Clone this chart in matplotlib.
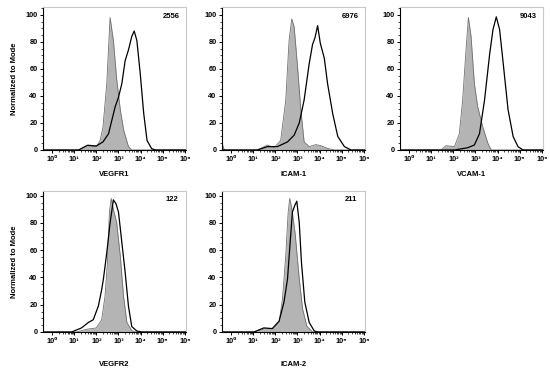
import numpy as np
import matplotlib
matplotlib.use("Agg")
import matplotlib.pyplot as plt
from matplotlib.ticker import FixedLocator, MultipleLocator, NullFormatter

plt.rcParams['font.family'] = ['Liberation Sans', 'DejaVu Sans']
plt.rcParams['font.weight'] = 'bold'

# marker names and the numbers printed in each panel
markers = ["VEGFR1", "ICAM-1", "VCAM-1", "VEGFR2", "ICAM-2"]
mfi = ["2556", "6976", "9043", "122", "211"]

# curves: log10 of intensity, then % of mode
# gray = isotype control (filled), black = stained sample (outline)
vegfr1_iso_x = [-0.4, 1.2, 1.56, 2.0, 2.17, 2.3, 2.47, 2.62, 2.77, 2.92, 3.08, 3.23, 3.45, 3.6, 6.05]
vegfr1_iso_y = [0, 0, 3, 2.5, 7, 17, 49, 98, 81, 52, 30, 15, 2.5, 0, 0]
vegfr1_x = [-0.4, 1.2, 1.6, 2.0, 2.3, 2.55, 2.7, 2.85, 3.0, 3.15, 3.3, 3.45, 3.6, 3.71, 3.83, 3.98, 4.14, 4.29, 4.5, 4.67, 6.05]
vegfr1_y = [0, 0, 3.5, 3, 6, 12, 22, 32, 39, 49, 66, 74, 84, 88, 81, 57, 27, 7, 1, 0, 0]

icam1_iso_x = [-0.4, -0.35, -0.3, 1.2, 1.64, 1.94, 2.24, 2.47, 2.62, 2.74, 2.85, 3.0, 3.15, 3.3, 3.53, 3.83, 4.06, 4.36, 4.67, 6.05]
icam1_iso_y = [5, 2, 0, 0, 3.7, 1.7, 7, 37, 81, 97, 91, 62, 30, 6, 2.5, 4, 3.2, 1.2, 0, 0]
icam1_x = [-0.4, 1.18, 1.64, 2.09, 2.55, 2.85, 3.08, 3.3, 3.53, 3.68, 3.79, 3.91, 4.03, 4.21, 4.36, 4.59, 4.82, 5.12, 5.42, 6.05]
icam1_y = [0, 0, 2.5, 2.5, 6, 11, 20, 37, 64, 78, 83, 92, 79, 68, 49, 27, 10, 2.5, 0, 0]

vcam1_iso_x = [-0.4, 1.44, 1.67, 2.05, 2.27, 2.42, 2.58, 2.68, 2.8, 2.95, 3.1, 3.33, 3.56, 3.71, 6.05]
vcam1_iso_y = [0, 0, 3.2, 2.5, 12, 37, 76, 98, 84, 49, 32, 17, 5, 0, 0]
vcam1_x = [-0.4, 2.05, 2.65, 2.95, 3.18, 3.41, 3.64, 3.79, 3.94, 4.09, 4.24, 4.47, 4.7, 4.92, 5.15, 6.05]
vcam1_y = [0, 0, 1.7, 3.7, 12, 37, 71, 89, 98.5, 89, 66, 30, 10, 2.5, 0, 0]

vegfr2_iso_x = [-0.4, 1.1, 1.56, 2.0, 2.24, 2.39, 2.5, 2.59, 2.67, 2.77, 2.92, 3.08, 3.23, 3.38, 3.6, 3.76, 6.05]
vegfr2_iso_y = [0, 0, 2, 3, 9, 26, 51, 88, 98, 90, 80, 56, 26, 7, 1, 0, 0]
vegfr2_x = [-0.4, 0.88, 1.33, 1.64, 1.86, 2.09, 2.24, 2.32, 2.47, 2.62, 2.77, 2.89, 3.0, 3.15, 3.3, 3.45, 3.6, 3.83, 4.06, 6.05]
vegfr2_y = [0, 0, 3, 7, 9, 19, 31, 39, 58, 80, 97, 94, 88, 66, 44, 19, 4, 0.7, 0, 0]

icam2_iso_x = [-0.4, 1.03, 1.56, 1.94, 2.17, 2.32, 2.47, 2.58, 2.65, 2.74, 2.89, 3.08, 3.23, 3.42, 3.68, 6.05]
icam2_iso_y = [0, 0, 2.5, 2.7, 7, 24, 56, 88, 98, 91, 73, 39, 17, 4.4, 0, 0]
icam2_x = [-0.4, 1.03, 1.48, 1.86, 2.17, 2.39, 2.55, 2.67, 2.77, 2.88, 2.97, 3.08, 3.18, 3.33, 3.53, 3.76, 3.91, 6.05]
icam2_y = [0, 0, 3, 2.5, 8, 22, 39, 66, 88, 93, 96, 80, 51, 22, 7, 0.7, 0, 0]

iso_curves = [(vegfr1_iso_x, vegfr1_iso_y), (icam1_iso_x, icam1_iso_y), (vcam1_iso_x, vcam1_iso_y),
              (vegfr2_iso_x, vegfr2_iso_y), (icam2_iso_x, icam2_iso_y)]
sample_curves = [(vegfr1_x, vegfr1_y), (icam1_x, icam1_y), (vcam1_x, vcam1_y),
                 (vegfr2_x, vegfr2_y), (icam2_x, icam2_y)]

decades = [0, 1, 2, 3, 4, 5, 6]
sup = "⁰¹²³⁴⁵⁶"
xtick_labels = ["10" + sup[d] for d in decades]

fig = plt.figure(figsize=(5.5, 3.69), dpi=100)

# panel frames in pixels: (bottom, top) measured from the top of the image
lefts = [43, 222, 400, 43, 222]
rows = [(150, 6.7), (150, 6.7), (150, 6.7), (332, 190.7), (332, 190.7)]
ytops = [106, 106, 106, 103.7, 103.7]
xpads = [6, 6, 6, 12, 12]

for i in range(5):
    bot, top = rows[i]
    ax = fig.add_axes([lefts[i] / 550, (369 - bot) / 369, 143 / 550, (bot - top) / 369])
    ix, iy = iso_curves[i]
    sx, sy = sample_curves[i]
    ax.fill_between(10 ** np.array(ix), iy, 0, color='#b4b4b4', lw=0)
    ax.plot(10 ** np.array(ix), iy, color='#707070', lw=0.6)
    ax.plot(10 ** np.array(sx), sy, color='black', lw=0.9)

    ax.set_xscale('log')
    ax.set_xlim(10 ** -0.41, 10 ** 6.05)
    ax.set_ylim(0, ytops[i])
    ax.xaxis.set_major_locator(FixedLocator([10.0 ** d for d in decades]))
    ax.set_xticklabels(xtick_labels)
    minors = [m * 10.0 ** d for d in range(0, 6) for m in range(2, 10)]
    ax.xaxis.set_minor_locator(FixedLocator(minors))
    ax.xaxis.set_minor_formatter(NullFormatter())
    ax.yaxis.set_major_locator(MultipleLocator(20))
    ax.yaxis.set_minor_locator(MultipleLocator(5))
    ax.set_yticks([0, 20, 40, 60, 80, 100])

    ax.tick_params(axis='both', which='major', length=2.5, width=0.7, labelsize=5.3, pad=1.5)
    ax.tick_params(axis='both', which='minor', length=1.3, width=0.5)
    for s in ['top', 'right']:
        ax.spines[s].set_color('#c8c8c8')
        ax.spines[s].set_linewidth(0.8)
    for s in ['left', 'bottom']:
        ax.spines[s].set_linewidth(0.8)

    ax.set_xlabel(markers[i], fontsize=5.5, fontweight='bold', labelpad=xpads[i])
    if lefts[i] == 43:
        ax.set_ylabel("Normalized to Mode", fontsize=5.5, fontweight='bold', labelpad=5)
    ax.text(0.90, 0.935, mfi[i], transform=ax.transAxes, ha='center', va='center',
            fontsize=5.5, fontweight='bold')

fig.savefig("out.png", dpi=100)
